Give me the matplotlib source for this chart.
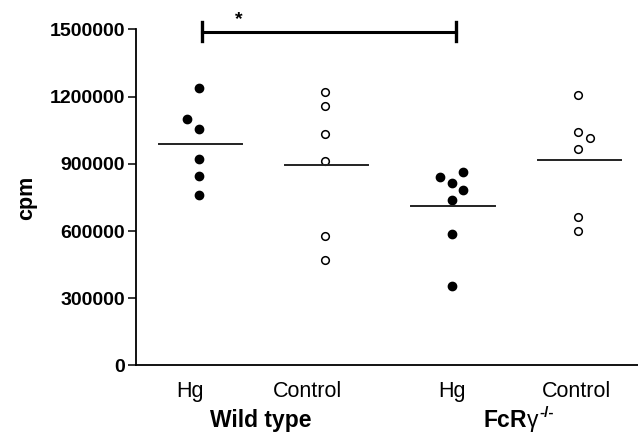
import numpy as np
import matplotlib
matplotlib.use('Agg')
import matplotlib.pyplot as plt

plt.rcParams['font.family'] = ['Liberation Sans', 'DejaVu Sans']
plt.rcParams['mathtext.fontset'] = 'custom'
plt.rcParams['mathtext.rm'] = 'Liberation Sans'
plt.rcParams['mathtext.bf'] = 'Liberation Sans:bold'
plt.rcParams['mathtext.it'] = 'Liberation Sans:italic'

# values (cpm)
wt_hg = [1240000, 1100000, 1055000, 920000, 847000, 761000]
wt_ctrl = [1222000, 1159000, 1033000, 914000, 578000, 471000]
ko_hg = [842000, 865000, 816000, 784000, 740000, 587000, 355000]
ko_ctrl = [1207000, 1040000, 1014000, 966000, 661000, 601000]

# small horizontal offsets for overlapping points (as in the original)
wt_hg_dx = [0, -0.095, 0, 0, 0, 0]
wt_ctrl_dx = [0, 0, 0, 0, 0, 0]
ko_hg_dx = [-0.09, 0.09, 0, 0.09, 0, 0, 0]
ko_ctrl_dx = [0, 0, 0.095, 0, 0, 0]

groups = [wt_hg, wt_ctrl, ko_hg, ko_ctrl]
offsets = [wt_hg_dx, wt_ctrl_dx, ko_hg_dx, ko_ctrl_dx]
filled = [True, False, True, False]

tick_labels = ['Hg', 'Control', 'Hg', 'Control']
tick_pos = [-0.07, 0.855, 2.0, 2.985]
group_labels = ['Wild type', r'$\mathbf{FcR}\mathrm{γ}$']
group_sup = ['', '-/-']
group_pos = [0.49, 2.47]

fig = plt.figure(figsize=(6.38, 4.36), dpi=100)
ax = fig.add_axes([0.2132, 0.1617, 0.7868, 0.7711])

for i, (vals, dx) in enumerate(zip(groups, offsets)):
    x = i + np.array(dx)
    if filled[i]:
        ax.plot(x, vals, 'o', ms=6, color='black', clip_on=False)
    else:
        ax.plot(x, vals, 'o', ms=5.5, mfc='white', mec='black', mew=1.1, clip_on=False)
    m = np.mean(vals)
    ax.plot([i - 0.32, i + 0.34], [m, m], color='#222222', lw=1.4)

ax.set_xlim(-0.5, 3.475)
ax.set_ylim(0, 1500000)
ax.set_yticks(np.arange(0, 1500001, 300000))
ax.set_yticklabels([str(v) for v in range(0, 1500001, 300000)],
                   fontsize=14, fontweight='bold')
ax.set_xticks(tick_pos)
ax.set_xticklabels(tick_labels, fontsize=15.5)
ax.tick_params(axis='x', length=0, pad=11)
ax.tick_params(axis='y', length=6, width=1.1, pad=2)
ax.set_ylabel('cpm', fontsize=15.5, fontweight='bold', labelpad=9)

for s in ['top', 'right']:
    ax.spines[s].set_visible(False)
for s in ['left', 'bottom']:
    ax.spines[s].set_linewidth(1.3)

for lab, sup, p in zip(group_labels, group_sup, group_pos):
    t = ax.text(p, -0.165, lab, transform=ax.get_xaxis_transform(), ha='center',
                va='center', fontsize=16.5, fontweight='bold')
    if sup:
        ax.annotate(sup, xy=(1.0, 0.8), xycoords=t, ha='left', va='center',
                    fontsize=11, fontweight='bold')

# significance bar
yb = 1490000
ax.plot([0.02, 2.03], [yb, yb], color='black', lw=2.2, clip_on=False)
for xc in [0.02, 2.03]:
    ax.plot([xc, xc], [yb - 42000, yb + 42000], color='black', lw=2.4, clip_on=False)
ax.text(0.31, 1545000, '*', ha='center', va='center', fontsize=14,
        fontweight='bold')

fig.savefig('out.png', dpi=100)
